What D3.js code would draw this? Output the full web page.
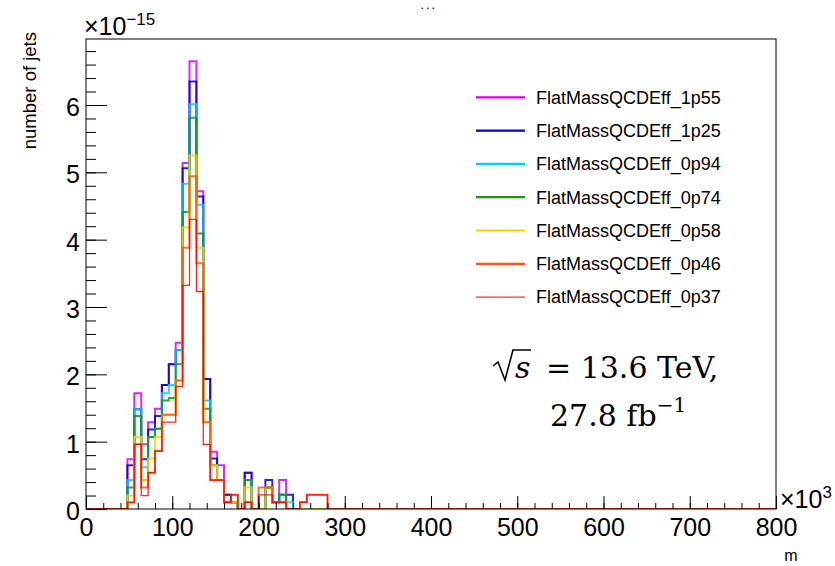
<!DOCTYPE html>
<html><head><meta charset="utf-8">
<script src="https://cdn.jsdelivr.net/npm/d3@7"></script>
<style>
body{margin:0;background:#fff;}
</style>
</head><body>
<svg id="c" width="835" height="566"></svg>
<script>
// ---------------- data ----------------
const binStart = 48;      // lower edge of first filled bin
const binWidth = 8;       // 100 bins over 0..800
const xMax = 800;
const seriesNames = ["FlatMassQCDEff_1p55","FlatMassQCDEff_1p25","FlatMassQCDEff_0p94",
  "FlatMassQCDEff_0p74","FlatMassQCDEff_0p58","FlatMassQCDEff_0p46","FlatMassQCDEff_0p37"];
const seriesColors = ["#d400ff","#0000cc","#00ccff","#119911","#ffcc00","#ff5511","#ff0000"];
// values in units of 1e-15, bins from 48 upward in steps of 8
const v1p55 = [0.74,1.72,0.96,1.29,1.49,1.84,2.15,2.47,5.14,6.65,4.72,1.93,0.85,0.65,0.21,0.10,0,0.54,0,0,0.32,0.10,0.43,0,0,0,0,0,0];
const v1p25 = [0.65,1.48,0.74,1.18,1.38,1.84,2.15,2.36,5.06,6.35,4.64,1.93,0.75,0.43,0.21,0.10,0,0.54,0,0,0.43,0.10,0.21,0.21,0,0,0,0,0];
const v0p94 = [0.43,1.48,0.62,1.07,1.19,1.72,1.84,2.36,4.83,6.01,4.52,1.61,0.65,0.43,0.10,0.10,0,0.43,0,0,0.32,0.10,0.21,0.10,0,0,0,0,0];
const v0p74 = [0.32,1.38,0.43,1.07,1.19,1.61,1.65,2.15,4.41,5.81,4.09,1.49,0.65,0.43,0.10,0.10,0,0.43,0,0,0.32,0.10,0.21,0,0,0,0,0,0];
const v0p58 = [0.20,1.07,0.43,0.75,1.07,1.40,1.40,1.91,4.18,5.25,3.88,1.29,0.65,0.43,0.10,0.10,0,0.32,0,0,0.32,0.10,0.10,0,0,0,0,0,0];
const v0p46 = [0.10,0.96,0.32,0.54,0.86,1.40,1.40,1.91,3.88,4.94,3.65,1.29,0.43,0.43,0.10,0.21,0,0.10,0,0.32,0.32,0.10,0.10,0,0,0.10,0.21,0.21,0.21];
const v0p37 = [0.095,0.96,0.20,0.54,0.86,1.29,1.29,1.82,3.32,4.30,3.23,0.96,0.43,0.43,0.10,0.21,0,0.10,0,0.21,0.21,0.10,0.10,0,0,0.10,0.21,0.21,0.21];
const seriesValues = [v1p55,v1p25,v0p94,v0p74,v0p58,v0p46,v0p37];
const xTickLabels = [0,100,200,300,400,500,600,700,800];
const yTickLabels = [0,1,2,3,4,5,6];
const yMax = 6.98;

// ---------------- layout ----------------
const sans = "'Liberation Sans', Arial, Helvetica, sans-serif";
const serif = "'DejaVu Serif', 'Liberation Serif', serif";
const svg = d3.select("#c").style("font-family", sans);
const L=86, R=776, T=39, B=509;
const x = d3.scaleLinear().domain([0,xMax]).range([L,R]);
const y = d3.scaleLinear().domain([0,yMax]).range([B,T]);

svg.append("rect").attr("width",835).attr("height",566).attr("fill","#fff");

svg.append("defs").append("clipPath").attr("id","clip")
  .append("rect").attr("x",L).attr("y",T-1).attr("width",R-L).attr("height",B-T+1);

// histograms
const nb = Math.round(xMax/binWidth);
const line = d3.line().x(d=>x(d[0])).y(d=>y(d[1])).curve(d3.curveStepAfter);
const g = svg.append("g").attr("clip-path","url(#clip)");
seriesValues.forEach((vals,si)=>{
  const pts = [];
  const first = Math.round(binStart/binWidth);
  for(let k=0;k<nb;k++){
    const idx = k-first;
    const v = (idx>=0 && idx<vals.length) ? vals[idx] : 0;
    pts.push([k*binWidth, v]);
  }
  pts.push([xMax, 0]);
  g.append("path").attr("d", line(pts)).attr("fill","none")
    .attr("stroke", seriesColors[si]).attr("stroke-width", si===6?1.3:2)
    .attr("stroke-opacity", 0.85);
});

// frame
svg.append("rect").attr("x",L).attr("y",T).attr("width",R-L).attr("height",B-T)
  .attr("fill","none").attr("stroke","#000").attr("stroke-width",1);

// x axis
svg.append("g").attr("transform",`translate(0,${B})`)
  .call(d3.axisBottom(x).tickValues(xTickLabels).tickSize(-13).tickPadding(9).tickFormat(d3.format("d")));
svg.append("g").attr("transform",`translate(0,${B})`)
  .call(d3.axisBottom(x).tickValues(d3.range(0,xMax+1,20)).tickSize(-6).tickFormat(""));
// y axis
const yAxis = svg.append("g").attr("transform",`translate(${L},0)`)
  .call(d3.axisLeft(y).tickValues(yTickLabels).tickSize(-21).tickPadding(6).tickFormat(d3.format("d")));
svg.append("g").attr("transform",`translate(${L},0)`)
  .call(d3.axisLeft(y).tickValues(d3.range(0,6.81,0.2)).tickSize(-10).tickFormat(""));
svg.selectAll(".domain").remove();
svg.selectAll(".tick line").attr("stroke","#000").attr("stroke-width",1);
svg.selectAll(".tick text").attr("font-size",25).attr("font-family",sans).attr("fill","#000");
yAxis.selectAll(".tick text").attr("dy","0.42em");

// exponent labels
const e1 = svg.append("text").attr("x",84).attr("y",35).attr("font-size",25);
e1.append("tspan").text("×10");
e1.append("tspan").attr("font-size",17).attr("dy",-10).text("−15");
const e2 = svg.append("text").attr("x",780).attr("y",508).attr("font-size",25);
e2.append("tspan").text("×10");
e2.append("tspan").attr("font-size",17).attr("dy",-10).text("3");

// axis titles
svg.append("text").attr("transform","translate(36,32) rotate(-90)").attr("text-anchor","end")
  .attr("font-size",18.5).text("number of jets");
svg.append("text").attr("x",791).attr("y",561).attr("text-anchor","middle").attr("font-size",16).text("m");
svg.append("text").attr("x",421).attr("y",8.6).attr("font-size",9).attr("font-weight","bold")
  .attr("letter-spacing",3).text("...");

// legend
const leg = svg.append("g");
seriesNames.forEach((n,i)=>{
  const yy = 97.3 + 33.3*i;
  leg.append("line").attr("x1",476).attr("x2",525).attr("y1",yy).attr("y2",yy)
    .attr("stroke",seriesColors[i]).attr("stroke-width", i===6?1:2.2);
  leg.append("text").attr("x",536).attr("y",yy).attr("dy","0.35em").attr("font-size",18).text(n);
});

// energy / lumi label
svg.append("path").attr("d","M493,366 L498,362 L505,380 L513,350 L531,350")
  .attr("fill","none").attr("stroke","#000").attr("stroke-width",1.6);
svg.append("text").attr("x",515).attr("y",378).attr("font-family",serif).attr("font-style","italic")
  .attr("font-size",30).text("s");
svg.append("text").attr("x",546).attr("y",378).attr("font-family",serif).attr("font-size",30)
  .text("= 13.6 TeV,");
const l2 = svg.append("text").attr("x",550).attr("y",426).attr("font-family",serif).attr("font-size",30);
l2.append("tspan").text("27.8 fb");
l2.append("tspan").attr("font-size",20).attr("dy",-14).text("−1");
</script>
</body></html>
